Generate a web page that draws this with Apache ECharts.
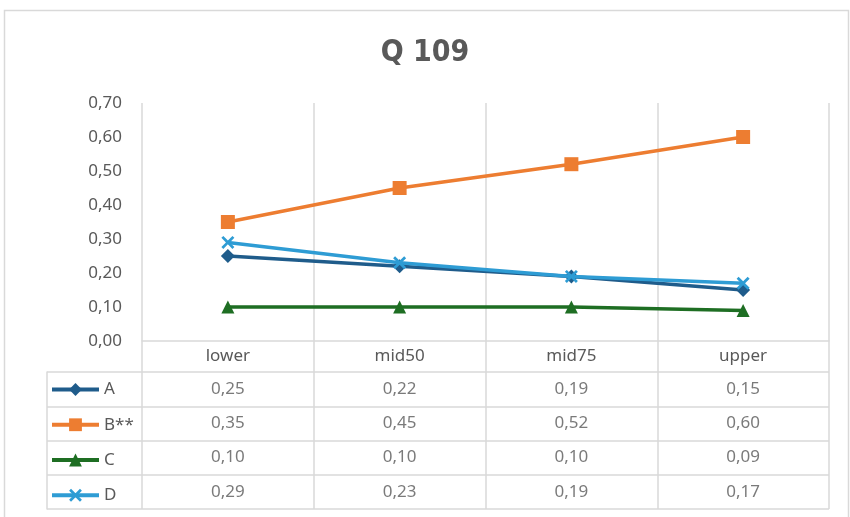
<!DOCTYPE html>
<html>
<head>
<meta charset="utf-8">
<script src="https://cdn.jsdelivr.net/npm/echarts@6/dist/echarts.min.js"></script>
<style>
html,body{margin:0;padding:0;background:#fff;}
#chart{width:850px;height:517px;}
</style>
</head>
<body>
<div id="chart"></div>
<script>
var categories = ['lower', 'mid50', 'mid75', 'upper'];
var seriesNames = ['A', 'B**', 'C', 'D'];
var valuesA = [0.25, 0.22, 0.19, 0.15];
var valuesB = [0.35, 0.45, 0.52, 0.60];
var valuesC = [0.10, 0.10, 0.10, 0.09];
var valuesD = [0.29, 0.23, 0.19, 0.17];
var yTicks = [0, 0.1, 0.2, 0.3, 0.4, 0.5, 0.6, 0.7];

var colors = ['#1F5C8B', '#ED7D31', '#1E6E23', '#2E9CD4'];
var symbols = ['diamond', 'rect', 'triangle',
  'path://M1.5,0 L5,3.5 L8.5,0 L10,1.5 L6.5,5 L10,8.5 L8.5,10 L5,6.5 L1.5,10 L0,8.5 L3.5,5 L0,1.5 Z'];
var symbolSizes = [14, 14, 13, 13];
var allValues = [valuesA, valuesB, valuesC, valuesD];

function fmt(v) { return v.toFixed(2).replace('.', ','); }

var FONT = "'Noto Sans', 'Open Sans', sans-serif";
var GRAY = '#595959';
var LINE = '#d9d9d9';

var lineSeries = seriesNames.map(function (n, i) {
  return {
    name: n,
    type: 'line',
    xAxisIndex: 0,
    yAxisIndex: 0,
    data: allValues[i],
    symbol: symbols[i],
    symbolSize: symbolSizes[i],
    showAllSymbol: true,
    lineStyle: { color: colors[i], width: 3.5 },
    itemStyle: { color: colors[i] },
    z: 3 + i
  };
});

var tableData = [];
seriesNames.forEach(function (n, i) {
  categories.forEach(function (c, j) {
    tableData.push([c, n, allValues[i][j]]);
  });
});

var option = {
  animation: false,
  backgroundColor: '#fff',
  textStyle: { fontFamily: FONT },
  title: {
    text: 'Q 109',
    left: 'center',
    top: 33,
    textStyle: {
      fontFamily: "'Liberation Sans Narrow', 'DejaVu Sans Condensed', 'Roboto', sans-serif",
      fontWeight: 'bold',
      fontSize: 30,
      color: GRAY
    }
  },
  legend: {
    orient: 'vertical',
    left: 50,
    top: 381,
    padding: 0,
    data: seriesNames,
    itemWidth: 47,
    itemHeight: 16,
    itemGap: 18.25,
    lineStyle: { width: 4 },
    textStyle: { color: GRAY, fontSize: 17, fontFamily: FONT, lineHeight: 16 }
  },
  grid: [
    { left: 142, right: 21, top: 103, height: 238 },
    { left: 142, right: 21, top: 372, height: 137 }
  ],
  xAxis: [
    {
      type: 'category',
      gridIndex: 0,
      data: categories,
      boundaryGap: true,
      axisLine: { show: true, lineStyle: { color: LINE, width: 1.5 } },
      axisTick: { show: true, length: 31, lineStyle: { color: LINE, width: 1.5 } },
      axisLabel: { color: GRAY, fontSize: 17, margin: 7, fontFamily: FONT },
      splitLine: { show: true, lineStyle: { color: LINE, width: 1.5 } }
    },
    {
      type: 'category',
      gridIndex: 1,
      data: categories,
      boundaryGap: true,
      axisLine: { show: false },
      axisTick: { show: false },
      axisLabel: { show: false },
      splitLine: { show: true, lineStyle: { color: LINE, width: 1.5 } }
    }
  ],
  yAxis: [
    {
      type: 'value',
      gridIndex: 0,
      min: yTicks[0],
      max: yTicks[yTicks.length - 1],
      interval: 0.1,
      axisLine: { show: false },
      axisTick: { show: false },
      splitLine: { show: false },
      axisLabel: {
        color: GRAY, fontSize: 17, margin: 20, fontFamily: FONT,
        formatter: function (v) { return fmt(v); }
      }
    },
    {
      type: 'category',
      gridIndex: 1,
      data: seriesNames,
      inverse: true,
      offset: 95,
      axisLine: { show: true, lineStyle: { color: LINE, width: 1.5 } },
      axisTick: { show: true, inside: true, length: 95, lineStyle: { color: LINE, width: 1.5 } },
      axisLabel: { show: false },
      splitLine: { show: true, lineStyle: { color: LINE, width: 1.5 } }
    }
  ],
  series: lineSeries.concat([{
    name: 'table',
    type: 'scatter',
    xAxisIndex: 1,
    yAxisIndex: 1,
    data: tableData,
    encode: { x: 0, y: 1 },
    symbolSize: 0,
    silent: true,
    label: {
      show: true,
      position: 'inside',
      color: GRAY,
      fontSize: 17,
      fontFamily: FONT,
      formatter: function (p) { return fmt(p.value[2]); }
    }
  }]),
  graphic: [{
    type: 'rect',
    silent: true,
    shape: { x: 4.5, y: 10.5, width: 844, height: 530 },
    style: { fill: 'none', stroke: LINE, lineWidth: 1.5 }
  }]
};

var chart = echarts.init(document.getElementById('chart'), null, { renderer: 'canvas' });
chart.setOption(option);
</script>
</body>
</html>
